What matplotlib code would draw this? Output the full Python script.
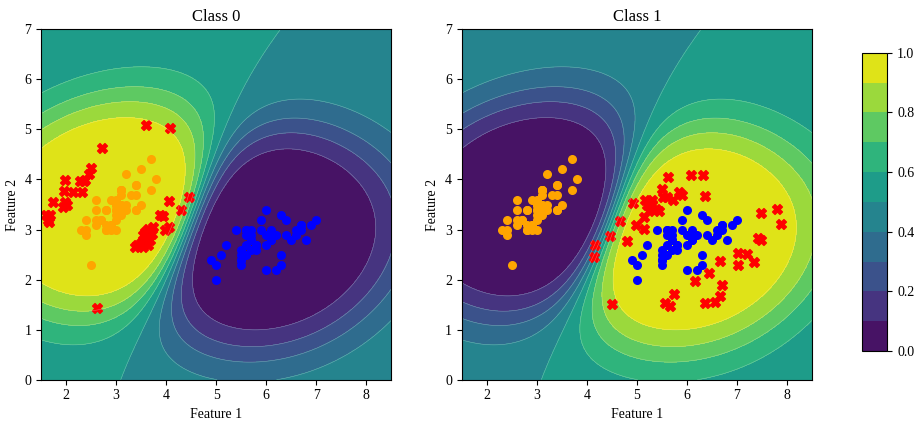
import matplotlib
matplotlib.use("Agg")
import matplotlib.pyplot as plt
import numpy as np

plt.rcParams['font.family'] = ['Liberation Serif', 'DejaVu Serif']

# class 0 points (orange) and class 1 points (blue)
x0 = [3.1, 2.9, 2.7, 2.6, 3.0, 3.4, 2.6, 3.0, 2.4, 2.9, 3.4, 2.8, 2.8, 2.3, 3.8, 3.7, 3.4,
      3.1, 3.7, 3.1, 3.4, 3.1, 2.6, 3.1, 2.8, 3.0, 3.0, 3.2, 3.2, 2.7, 2.8, 3.4, 3.2, 3.5,
      2.9, 3.0, 3.5, 2.9, 2.4, 3.1, 3.0, 2.5, 2.4, 3.0, 3.1, 2.8, 3.1, 2.6, 3.3, 3.0]
y0 = [3.5, 3.0, 3.2, 3.1, 3.6, 3.9, 3.4, 3.4, 2.9, 3.1, 3.7, 3.4, 3.0, 3.0, 4.0, 4.4, 3.9,
      3.5, 3.8, 3.8, 3.4, 3.7, 3.6, 3.3, 3.4, 3.0, 3.4, 3.5, 3.4, 3.2, 3.1, 3.4, 4.1, 4.2,
      3.1, 3.2, 3.5, 3.6, 3.0, 3.4, 3.5, 2.3, 3.2, 3.5, 3.8, 3.0, 3.8, 3.2, 3.7, 3.3]
x1 = [7.0, 6.4, 6.9, 5.5, 6.5, 5.7, 6.3, 4.9, 6.6, 5.2, 5.0, 5.9, 6.0, 6.1, 5.6, 6.7, 5.6,
      5.8, 6.2, 5.6, 5.9, 6.1, 6.3, 6.1, 6.4, 6.6, 6.8, 6.7, 6.0, 5.7, 5.5, 5.5, 5.8, 6.0,
      5.4, 6.0, 6.7, 6.3, 5.6, 5.5, 5.5, 6.1, 5.8, 5.0, 5.6, 5.7, 5.7, 6.2, 5.1, 5.7]
y1 = [3.2, 3.2, 3.1, 2.3, 2.8, 2.8, 3.3, 2.4, 2.9, 2.7, 2.0, 3.0, 2.2, 2.9, 2.9, 3.1, 3.0,
      2.7, 2.2, 2.5, 3.2, 2.8, 2.5, 2.8, 2.9, 3.0, 2.8, 3.0, 2.9, 2.6, 2.4, 2.4, 2.7, 2.7,
      3.0, 3.4, 3.1, 2.3, 3.0, 2.5, 2.6, 3.0, 2.6, 2.3, 2.7, 3.0, 2.9, 2.9, 2.5, 2.8]

# red crosses: extra samples of class 0 (left panel) and class 1 (right panel)
rx0 = [3.60, 4.08, 2.71, 2.49, 2.45, 2.37, 1.97, 2.27, 2.35, 1.96, 2.14, 2.31, 1.74, 1.97,
       2.02, 1.94, 1.60, 1.68, 1.64, 1.66, 4.05, 4.46, 4.29, 3.88, 3.94, 4.05, 3.98, 3.74,
       3.64, 3.58, 3.54, 3.71, 3.68, 3.60, 3.41, 3.54, 3.64, 3.38, 3.50, 2.61]
ry0 = [5.09, 5.02, 4.62, 4.22, 4.10, 3.99, 3.99, 3.96, 3.96, 3.77, 3.76, 3.76, 3.56, 3.55,
       3.49, 3.45, 3.30, 3.29, 3.20, 3.15, 3.57, 3.66, 3.39, 3.29, 3.28, 3.06, 2.99, 3.06,
       3.02, 2.96, 2.89, 2.92, 2.79, 2.84, 2.69, 2.66, 2.69, 2.65, 2.74, 1.43]
rx1 = [5.63, 6.09, 6.33, 5.51, 5.84, 5.90, 6.37, 5.53, 5.60, 5.72, 4.93, 5.17, 5.30, 5.20,
       5.30, 5.38, 5.45, 5.25, 5.14, 4.66, 4.99, 5.14, 4.47, 4.80, 4.17, 4.15, 7.48, 7.80,
       7.88, 7.43, 7.48, 7.03, 7.20, 7.35, 7.02, 6.66, 6.45, 6.17, 6.70, 6.66, 6.56, 6.36,
       5.75, 5.56, 5.66, 4.50]
ry1 = [4.04, 4.09, 4.09, 3.82, 3.76, 3.69, 3.68, 3.66, 3.66, 3.60, 3.54, 3.59, 3.59, 3.50,
       3.52, 3.42, 3.38, 3.38, 3.26, 3.18, 3.09, 3.01, 2.87, 2.78, 2.69, 2.45, 3.34, 3.42,
       3.12, 2.83, 2.79, 2.53, 2.51, 2.36, 2.29, 2.37, 2.14, 1.98, 1.89, 1.68, 1.56, 1.54,
       1.71, 1.54, 1.47, 1.51]

# kernel covariance (tilted RBF) and scale of the latent function
kern_cov = np.array([[1.45, 0.2], [0.2, 1.05]])
scale = 10.5


def kernel_mean(px, py, gx, gy):
    # average kernel value between the grid and one class's samples
    inv = np.linalg.inv(kern_cov)
    out = np.zeros_like(gx)
    for a, b in zip(px, py):
        dx, dy = gx - a, gy - b
        m = inv[0, 0] * dx * dx + 2 * inv[0, 1] * dx * dy + inv[1, 1] * dy * dy
        out += np.exp(-0.5 * m)
    return out / len(px)


gx, gy = np.meshgrid(np.linspace(1.5, 8.5, 300), np.linspace(0, 7, 300))
k0 = kernel_mean(x0 + rx0, y0 + ry0, gx, gy)
k1 = kernel_mean(x1 + rx1, y1 + ry1, gx, gy)
f = scale * (k0 - k1)
p0 = 1 / (1 + np.exp(-f))
p1 = 1 - p0

levels = np.linspace(0, 1, 11)

fig = plt.figure(figsize=(9.21, 4.22), dpi=100)
ax0 = fig.add_axes([0.0445, 0.1002, 0.3805, 0.8303])
ax1 = fig.add_axes([0.5012, 0.1002, 0.3805, 0.8303])
cax = fig.add_axes([0.9363, 0.168, 0.0271, 0.707])

panels = [(ax0, p0, rx0, ry0, 'Class 0'), (ax1, p1, rx1, ry1, 'Class 1')]
for ax, p, rx, ry, title in panels:
    cs = ax.contourf(gx, gy, p, levels=levels, cmap='viridis', vmin=0, vmax=1)
    ax.contour(gx, gy, p, levels=levels[1:-1], colors='white', linewidths=0.4, alpha=0.35)
    ax.scatter(x0, y0, s=30, c='orange')
    ax.scatter(x1, y1, s=30, c='blue')
    ax.scatter(rx, ry, s=50, c='red', marker='X')
    ax.set_xlim(1.5, 8.5)
    ax.set_ylim(0, 7)
    ax.set_xticks(range(2, 9))
    ax.set_yticks(range(0, 8))
    ax.set_title(title, fontsize=12)
    ax.set_xlabel('Feature 1', fontsize=10)
    ax.set_ylabel('Feature 2', fontsize=10)
    ax.tick_params(labelsize=10)

cb = fig.colorbar(cs, cax=cax, ticks=[0.0, 0.2, 0.4, 0.6, 0.8, 1.0])
cb.ax.set_yticklabels(['0.0', '0.2', '0.4', '0.6', '0.8', '1.0'])
cb.ax.tick_params(labelsize=10)

fig.savefig('out.png', dpi=100)
